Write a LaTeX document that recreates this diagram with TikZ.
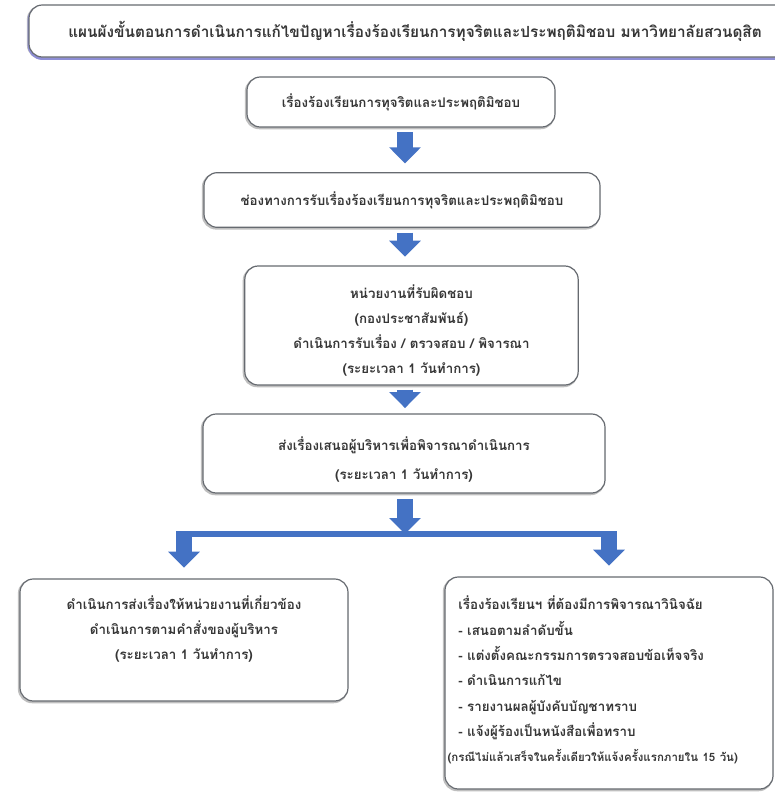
\documentclass[tikz,border=0pt]{standalone}
\usepackage{fontspec}
\newfontfamily\thaifont[Script=Thai]{Loma}
\usetikzlibrary{arrows.meta,calc}
\definecolor{arrowblue}{HTML}{4472C4}
\definecolor{boxline}{HTML}{666A70}
\definecolor{txt}{HTML}{363636}
\definecolor{titleline}{HTML}{8E8ED6}
\begin{document}
\begin{tikzpicture}[x=0.75pt,y=-0.75pt,
  box/.style={draw=boxline, line width=0.9pt, rounded corners=10pt, fill=white,
    align=center, text=txt, inner sep=0pt,
    preaction={draw=black!25, line width=1.6pt, transform canvas={xshift=-0.8pt,yshift=-0.9pt}},
    font=\thaifont\bfseries\fontsize{10}{18.75}\selectfont},
  titlebox/.style={box, preaction={draw=titleline, line width=2pt, transform canvas={yshift=-1.2pt}},
    font=\thaifont\bfseries\fontsize{11.5}{14}\selectfont},
  lift/.style={text height=0pt, text depth=#1},
  drop/.style={text height=#1, text depth=0pt},
  barrow/.style={draw=arrowblue, line width=12pt, -{Triangle[width=23pt,length=12pt]}},
  bar/.style={draw=arrowblue, line width=4.5pt},
]
\useasboundingbox (0,0) rectangle (775,793);
\clip (0,0) rectangle (775,793);

\node[titlebox, minimum width=579pt, minimum height=39pt] (t) at (415,31)
  {แผนผังขั้นตอนการดำเนินการแก้ไขปัญหาเรื่องร้องเรียนการทุจริตและประพฤติมิชอบ มหาวิทยาลัยสวนดุสิต};

\node[box, minimum width=231pt, minimum height=37.5pt] (b1) at (401,102)
  {เรื่องร้องเรียนการทุจริตและประพฤติมิชอบ};

\node[box, minimum width=297pt, minimum height=41pt] (b2) at (402,200)
  {ช่องทางการรับเรื่องร้องเรียนการทุจริตและประพฤติมิชอบ};

\node[box, drop=71.7pt, minimum width=250pt, minimum height=89.25pt] (b3) at (411.5,325.5)
  {หน่วยงานที่รับผิดชอบ\\(กองประชาสัมพันธ์)\\ดำเนินการรับเรื่อง / ตรวจสอบ / พิจารณา\\(ระยะเวลา 1 วันทำการ)};

\node[box, drop=38.7pt, minimum width=301.5pt, minimum height=59.25pt,
  font=\thaifont\bfseries\fontsize{10}{21.75}\selectfont] (b4) at (404,453.5)
  {ส่งเรื่องเสนอผู้บริหารเพื่อพิจารณาดำเนินการ\\(ระยะเวลา 1 วันทำการ)};

\node[box, drop=29pt, minimum width=246pt, minimum height=91.5pt] (b5) at (184,640)
  {ดำเนินการส่งเรื่องให้หน่วยงานที่เกี่ยวข้อง\\ดำเนินการตามคำสั่งของผู้บริหาร\\(ระยะเวลา 1 วันทำการ)};

\node[box, lift=110pt, align=left, text width=226pt, inner xsep=10pt, minimum height=159pt,
  font=\thaifont\bfseries\fontsize{10}{19}\selectfont] (b6) at (609,683)
  {เรื่องร้องเรียนฯ ที่ต้องมีการพิจารณาวินิจฉัย\\
   - เสนอตามลำดับขั้น\\
   - แต่งตั้งคณะกรรมการตรวจสอบข้อเท็จจริง\\
   - ดำเนินการแก้ไข\\
   - รายงานผลผู้บังคับบัญชาทราบ\\
   - แจ้งผู้ร้องเป็นหนังสือเพื่อทราบ\\
   \hspace*{-8pt}{\fontsize{8.6}{19}\selectfont(กรณีไม่แล้วเสร็จในครั้งเดียวให้แจ้งครั้งแรกภายใน 15 วัน)}};

\coordinate (ax) at (405,0);
\coordinate (j) at (405,534);
\coordinate (bl) at (176,534);
\coordinate (br) at (617,534);
\coordinate (al) at (184,534);
\coordinate (ar) at (609,534);

\draw[barrow, shorten <=3.5pt, shorten >=6.5pt] (b1.south -| ax) -- (b2.north -| ax);
\draw[barrow, shorten <=3.5pt, shorten >=6.5pt] (b2.south -| ax) -- (b3.north -| ax);
\draw[barrow, shorten <=3pt, shorten >=4pt] (b3.south -| ax) -- (b4.north -| ax);
\draw[bar] (bl) -- (br);
\draw[barrow, shorten <=4pt] (b4.south -| ax) -- (j);
\draw[barrow, shorten >=8pt] (al) -- (b5.north -| al);
\draw[barrow, shorten >=8pt] (ar) -- (b6.north -| ar);
\end{tikzpicture}
\end{document}
